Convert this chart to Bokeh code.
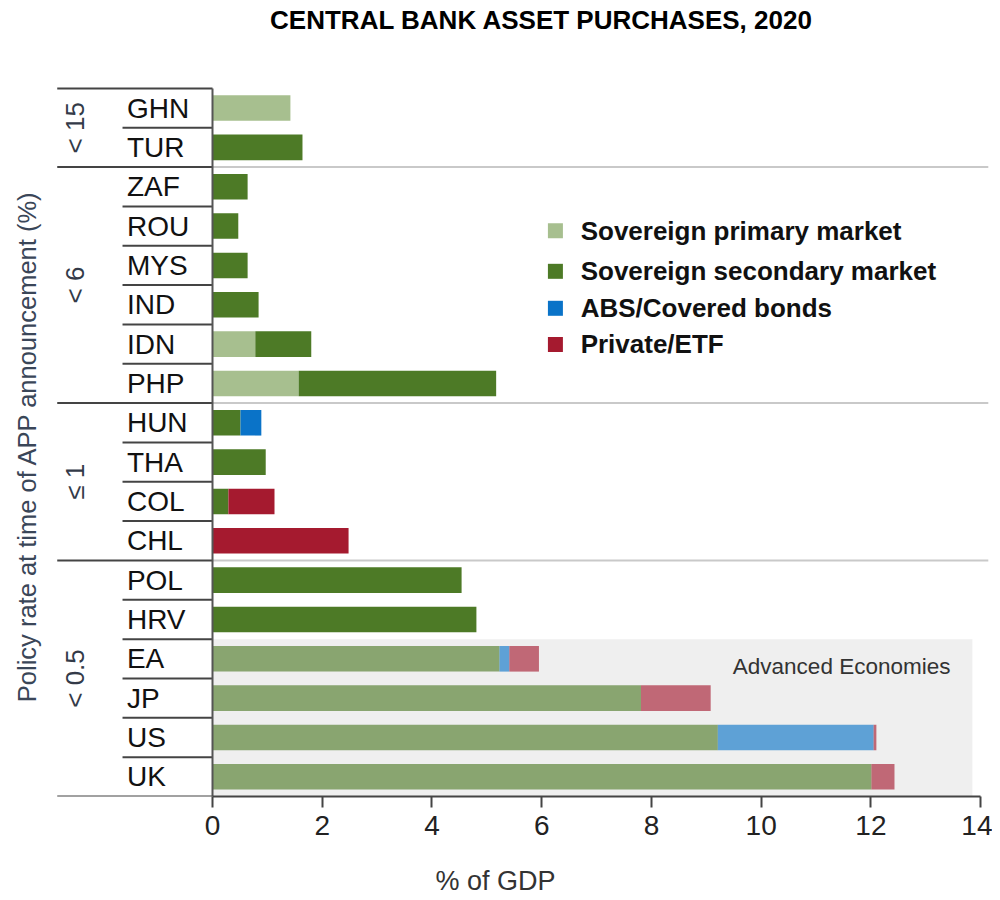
import numpy as np
from bokeh.plotting import figure
from bokeh.models import ColumnDataSource, Range1d, FixedTicker
from bokeh.core.properties import value
from bokeh.embed import file_html
from bokeh.resources import INLINE

# ---------------- data ----------------
countries = ["GHN", "TUR", "ZAF", "ROU", "MYS", "IND", "IDN", "PHP", "HUN",
             "THA", "COL", "CHL", "POL", "HRV", "EA", "JP", "US", "UK"]
sov_primary = [1.42, 0, 0, 0, 0, 0, 0.78, 1.57, 0, 0, 0, 0, 0, 0, 0, 0, 0, 0]
sov_secondary = [0, 1.64, 0.64, 0.47, 0.64, 0.84, 1.02, 3.60, 0.51, 0.97, 0.29, 0,
                 4.54, 4.81, 5.23, 7.81, 9.21, 12.01]
abs_covered = [0, 0, 0, 0, 0, 0, 0, 0, 0.38, 0, 0, 0, 0, 0, 0.18, 0, 2.84, 0]
private_etf = [0, 0, 0, 0, 0, 0, 0, 0, 0, 0, 0.84, 2.48, 0, 0, 0.54, 1.27, 0.05, 0.42]
advanced = ["EA", "JP", "US", "UK"]
groups = ["< 15", "< 6", "≤ 1", "< 0.5"]
group_sizes = [2, 6, 4, 6]
series_names = ["Sovereign primary market", "Sovereign secondary market",
                "ABS/Covered bonds", "Private/ETF"]
series_colors = ["#a7bf8f", "#4d7a26", "#0a73c8", "#a51a2f"]
x_ticks = [0, 2, 4, 6, 8, 10, 12, 14]
title_text = "CENTRAL BANK ASSET PURCHASES, 2020"
x_label = "% of GDP"
y_label = "Policy rate at time of APP announcement (%)"
ae_label = "Advanced Economies"

FONT = "Liberation Sans"

n = len(countries)
ypos = [n - 1 - i for i in range(n)]
alphas = [0.63 if c in advanced else 1.0 for c in countries]

src = ColumnDataSource(dict(y=ypos, country=countries, primary=sov_primary,
                            secondary=sov_secondary, abs=abs_covered,
                            private=private_etf, alpha=alphas))

p = figure(width=992, height=898, output_backend="svg", toolbar_location=None,
           x_range=Range1d(-3.864, 14.18), y_range=Range1d(-0.5, 19.734),
           y_axis_location=None, title=None,
           min_border_left=0, min_border_right=2, min_border_top=0, min_border_bottom=101)
p.outline_line_color = None
p.xgrid.visible = False
p.ygrid.visible = False
p.background_fill_color = "white"

# Advanced economies shaded box
ae_y = [ypos[countries.index(c)] for c in advanced]
p.quad(left=0, right=13.85, bottom=min(ae_y) - 0.5, top=max(ae_y) + 0.5,
       fill_color="#efefef", line_color=None)

# group boundaries
bounds = [n - 0.5]
for s in group_sizes:
    bounds.append(bounds[-1] - s)
inner_bounds = bounds[1:-1]

# grey separators in plot
p.segment(x0=[0] * len(inner_bounds), x1=[14.14] * len(inner_bounds),
          y0=inner_bounds, y1=inner_bounds, line_color="#c9c9c9", line_width=2)

# stacked bars
p.hbar_stack(["primary", "secondary", "abs", "private"], y="y", height=0.65,
             fill_color=series_colors, line_color=None, fill_alpha="alpha", source=src)

# left table lines
p.segment(x0=[-2.83] * len(bounds), x1=[0] * len(bounds), y0=bounds, y1=bounds,
          line_color="#444444", line_width=2)
row_bounds = [y - 0.5 for y in ypos[:-1]]
row_bounds = [b for b in row_bounds if b not in bounds]
p.segment(x0=[-1.64] * len(row_bounds), x1=[0] * len(row_bounds), y0=row_bounds,
          y1=row_bounds, line_color="#444444", line_width=2)
p.segment(x0=[0], x1=[0], y0=[-0.5], y1=[n - 0.5], line_color="#555555", line_width=2)

# country labels
p.text(x=-1.56, y="y", text="country", source=src, text_font=value(FONT),
       text_font_size="28px", text_baseline="middle", text_align="left",
       text_color="#111111")

# group labels
gcent = [(bounds[i] + bounds[i + 1]) / 2 for i in range(len(groups))]
p.text(x=[-2.50] * len(groups), y=gcent, text=groups, angle=np.pi / 2,
       text_font=value(FONT), text_font_size="26px", text_baseline="middle",
       text_align="center", text_color="#333a48")

# y label
p.text(x=[-3.39], y=[(n - 1) / 2 - 0.1], text=[y_label], angle=np.pi / 2,
       text_font=value(FONT), text_font_size="25.5px", text_baseline="middle",
       text_align="center", text_color="#3a4658")

# title
p.text(x=[6.0], y=[19.226], text=[title_text], text_font=value(FONT),
       text_font_size="26px", text_font_style="bold", text_baseline="middle",
       text_align="center", text_color="#000000")

# Advanced Economies label
p.text(x=[13.45], y=[2.8], text=[ae_label], text_font=value(FONT),
       text_font_size="22.5px", text_baseline="middle", text_align="right",
       text_color="#333333")

# legend (manual)
leg_y = [13.88, 12.85, 11.91, 10.99]
p.scatter(x=[6.25] * 4, y=leg_y, marker="square", size=15, fill_color=series_colors,
          line_color=None)
p.text(x=[6.71] * 4, y=leg_y, text=series_names, text_font=value(FONT),
       text_font_size="26px", text_font_style="bold", text_baseline="middle",
       text_align="left", text_color="#111111")

# x axis
ax = p.xaxis[0]
ax.ticker = FixedTicker(ticks=x_ticks)
ax.bounds = (0, 14)
ax.axis_label = x_label
ax.axis_label_text_font = FONT
ax.axis_label_text_font_size = "27px"
ax.axis_label_text_font_style = "normal"
ax.axis_label_text_color = "#333333"
ax.axis_label_standoff = 28
ax.major_label_text_font = FONT
ax.major_label_text_font_size = "28px"
ax.major_label_text_color = "#222222"
ax.major_label_standoff = 8
ax.major_tick_out = 11
ax.major_tick_in = 0
ax.minor_tick_out = 0
ax.minor_tick_in = 0
ax.axis_line_color = "#444444"
ax.axis_line_width = 2
ax.major_tick_line_color = "#444444"
ax.major_tick_line_width = 2

open("out.html", "w").write(file_html(p, INLINE))
